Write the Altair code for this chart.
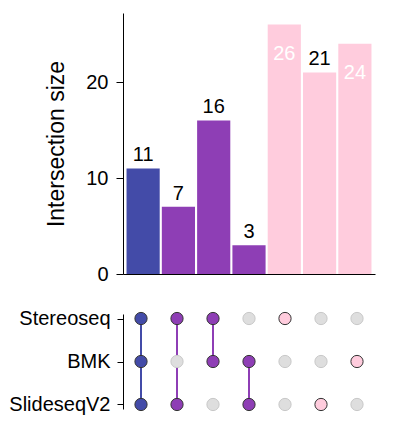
import altair as alt
import pandas as pd

set_names = ["Stereoseq", "BMK", "SlideseqV2"]
memberships = [
    ["Stereoseq", "BMK", "SlideseqV2"],
    ["Stereoseq", "SlideseqV2"],
    ["Stereoseq", "BMK"],
    ["BMK", "SlideseqV2"],
    ["Stereoseq"],
    ["SlideseqV2"],
    ["BMK"],
]
sizes = [11, 7, 16, 3, 26, 21, 24]
degree_keys = ["3", "2", "1", "0"]
degree_colors = ["#434BA8", "#8E3EB5", "#FFCCDD", "#DEDEDE"]

names = [" & ".join(m) for m in memberships]
bar_df = pd.DataFrame({
    "intersection": names,
    "size": sizes,
    "degree": [str(len(m)) for m in memberships],
})
rows = []
for name, mem in zip(names, memberships):
    for s in set_names:
        inside = s in mem
        rows.append({
            "intersection": name,
            "set": s,
            "member": inside,
            "degree": len(mem),
            "key": str(len(mem)) if inside else "0",
        })
matrix_df = pd.DataFrame(rows)

FONT = "Liberation Sans"
W = 252
xscale = alt.Scale(domain=names, paddingInner=0.06, paddingOuter=0.1)
cscale = alt.Scale(domain=degree_keys, range=degree_colors)

base = alt.Chart(bar_df).encode(
    x=alt.X("intersection:N", sort=names, scale=xscale,
            axis=alt.Axis(labels=False, ticks=False, title=None,
                          domainColor="black", domainWidth=1.2)),
    y=alt.Y("size:Q", scale=alt.Scale(domain=[0, 27.2], nice=False),
            axis=alt.Axis(values=[0, 10, 20], title="Intersection size",
                          titleFontSize=23, titleFontWeight="normal",
                          titlePadding=17, labelFontSize=20, labelPadding=8,
                          tickSize=7, domainColor="black", tickColor="black",
                          labelColor="black", titleColor="black")),
)
bars = base.mark_bar().encode(color=alt.Color("key:N", scale=cscale, legend=None)).transform_calculate(key="datum.degree")
above = base.transform_filter("datum.size < 24").mark_text(
    baseline="alphabetic", dy=-7, fontSize=20, color="black", font=FONT
).encode(text="size:Q")
inside = base.transform_filter("datum.size >= 24").mark_text(
    baseline="alphabetic", dy=35, fontSize=20, color="white", font=FONT
).encode(text="size:Q")
top = alt.layer(bars, above, inside).properties(width=W, height=261)

mx = alt.X("intersection:N", sort=names, scale=xscale, axis=None)
my = alt.Y("set:N", sort=set_names,
           scale=alt.Scale(type="point", domain=set_names, padding=0.105),
           axis=alt.Axis(title=None, labelFontSize=20, labelPadding=7, tickSize=6,
                         domainColor="black", tickColor="black", labelColor="black"))
lines = alt.Chart(matrix_df).transform_filter("datum.member && datum.degree > 1").mark_line(
    strokeWidth=2
).encode(x=mx, y=my, detail="intersection:N",
         color=alt.Color("key:N", scale=cscale, legend=None))
dots = alt.Chart(matrix_df).mark_circle(size=150, opacity=1, strokeWidth=1).encode(
    x=mx, y=my,
    color=alt.Color("key:N", scale=cscale, legend=None),
    stroke=alt.condition("datum.member", alt.value("#333333"), alt.value("#C8C8C8")),
)
matrix = alt.layer(lines, dots).properties(width=W, height=95)

chart = alt.vconcat(top, matrix, spacing=24).properties(
    padding={"left": 0, "top": 5, "right": 5, "bottom": 5}
).configure_view(stroke=None).configure_axis(
    grid=False, labelFont=FONT, titleFont=FONT
).configure_text(font=FONT)

chart.save("out.html", embed_options={"renderer": "svg", "actions": False})
